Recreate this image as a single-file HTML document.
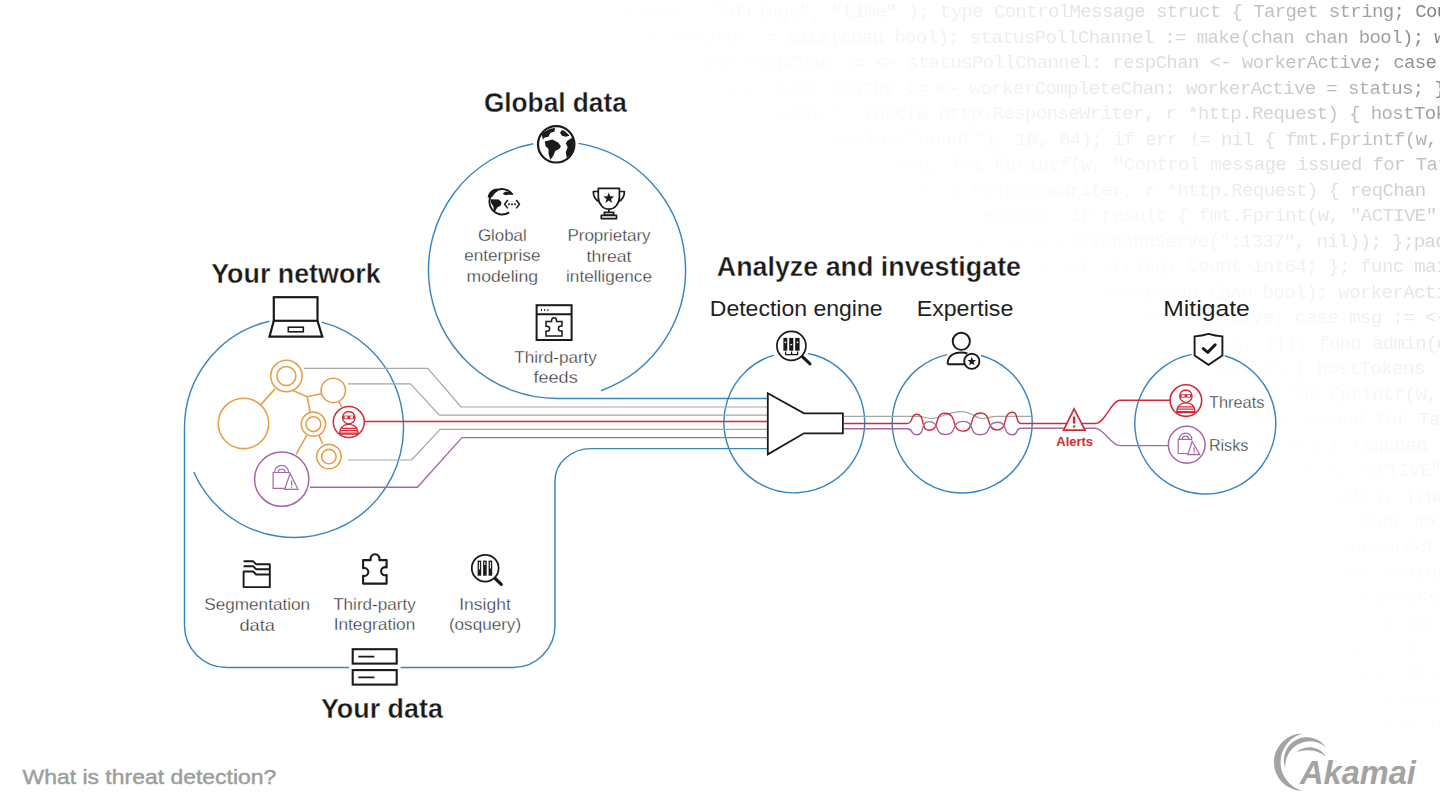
<!DOCTYPE html>
<html><head><meta charset="utf-8"><style>
html,body{margin:0;padding:0;background:#fff;}
body{width:1440px;height:810px;overflow:hidden;position:relative;font-family:"Liberation Sans",sans-serif;}
#code{position:absolute;left:0;top:0;width:1440px;height:810px;overflow:hidden;}

.cl{position:absolute;white-space:pre;font-family:"Liberation Mono",monospace;font-size:19px;letter-spacing:-0.6px;line-height:20px;color:#6e6e6e;}
svg{position:absolute;left:0;top:0;}
</style></head><body>
<div id="code">
<div class="cl" style="left:-32.3px;top:2.2px;opacity:0.874;-webkit-mask-image:linear-gradient(to right, rgba(0,0,0,0.000) 547px, rgba(0,0,0,0.013) 671px, rgba(0,0,0,0.031) 771px, rgba(0,0,0,0.060) 871px, rgba(0,0,0,0.105) 971px, rgba(0,0,0,0.174) 1071px, rgba(0,0,0,0.277) 1171px, rgba(0,0,0,0.346) 1221px, rgba(0,0,0,0.431) 1271px, rgba(0,0,0,0.534) 1321px, rgba(0,0,0,0.659) 1371px, rgba(0,0,0,0.812) 1421px, rgba(0,0,0,1.000) 1471px);mask-image:linear-gradient(to right, rgba(0,0,0,0.000) 547px, rgba(0,0,0,0.013) 671px, rgba(0,0,0,0.031) 771px, rgba(0,0,0,0.060) 871px, rgba(0,0,0,0.105) 971px, rgba(0,0,0,0.174) 1071px, rgba(0,0,0,0.277) 1171px, rgba(0,0,0,0.346) 1221px, rgba(0,0,0,0.431) 1271px, rgba(0,0,0,0.534) 1321px, rgba(0,0,0,0.659) 1371px, rgba(0,0,0,0.812) 1421px, rgba(0,0,0,1.000) 1471px)">;package main; import ( &quot;fmt&quot;; &quot;html&quot;; &quot;log&quot;; &quot;net/http&quot;; &quot;strconv&quot;; &quot;strings&quot;; &quot;time&quot; ); type ControlMessage struct { Target string; Count int64; }; </div>
<div class="cl" style="left:-2.3px;top:27.7px;opacity:0.861;-webkit-mask-image:linear-gradient(to right, rgba(0,0,0,0.000) 553px, rgba(0,0,0,0.008) 641px, rgba(0,0,0,0.024) 741px, rgba(0,0,0,0.051) 841px, rgba(0,0,0,0.094) 941px, rgba(0,0,0,0.160) 1041px, rgba(0,0,0,0.261) 1141px, rgba(0,0,0,0.330) 1191px, rgba(0,0,0,0.415) 1241px, rgba(0,0,0,0.519) 1291px, rgba(0,0,0,0.647) 1341px, rgba(0,0,0,0.805) 1391px, rgba(0,0,0,1.000) 1441px);mask-image:linear-gradient(to right, rgba(0,0,0,0.000) 553px, rgba(0,0,0,0.008) 641px, rgba(0,0,0,0.024) 741px, rgba(0,0,0,0.051) 841px, rgba(0,0,0,0.094) 941px, rgba(0,0,0,0.160) 1041px, rgba(0,0,0,0.261) 1141px, rgba(0,0,0,0.330) 1191px, rgba(0,0,0,0.415) 1241px, rgba(0,0,0,0.519) 1291px, rgba(0,0,0,0.647) 1341px, rgba(0,0,0,0.805) 1391px, rgba(0,0,0,1.000) 1441px)">n() { controlChannel := make(chan ControlMessage); workerCompleteChan := make(chan bool); statusPollChannel := make(chan chan bool); workerActive := f</div>
<div class="cl" style="left:140.2px;top:53.2px;opacity:0.843;-webkit-mask-image:linear-gradient(to right, rgba(0,0,0,0.000) 446px, rgba(0,0,0,0.005) 498px, rgba(0,0,0,0.019) 598px, rgba(0,0,0,0.043) 698px, rgba(0,0,0,0.082) 798px, rgba(0,0,0,0.146) 898px, rgba(0,0,0,0.245) 998px, rgba(0,0,0,0.313) 1048px, rgba(0,0,0,0.398) 1098px, rgba(0,0,0,0.503) 1148px, rgba(0,0,0,0.634) 1198px, rgba(0,0,0,0.797) 1248px, rgba(0,0,0,1.000) 1298px);mask-image:linear-gradient(to right, rgba(0,0,0,0.000) 446px, rgba(0,0,0,0.005) 498px, rgba(0,0,0,0.019) 598px, rgba(0,0,0,0.043) 698px, rgba(0,0,0,0.082) 798px, rgba(0,0,0,0.146) 898px, rgba(0,0,0,0.245) 998px, rgba(0,0,0,0.313) 1048px, rgba(0,0,0,0.398) 1098px, rgba(0,0,0,0.503) 1148px, rgba(0,0,0,0.634) 1198px, rgba(0,0,0,0.797) 1248px, rgba(0,0,0,1.000) 1298px)">controlChannel, statusPollChannel); for { select { case respChan := &lt;- statusPollChannel: respChan &lt;- workerActive; case msg := &lt;-controlChannel: work</div>
<div class="cl" style="left:-2.3px;top:78.7px;opacity:0.771;-webkit-mask-image:linear-gradient(to right, rgba(0,0,0,0.000) 624px, rgba(0,0,0,0.001) 641px, rgba(0,0,0,0.013) 741px, rgba(0,0,0,0.035) 841px, rgba(0,0,0,0.071) 941px, rgba(0,0,0,0.131) 1041px, rgba(0,0,0,0.227) 1141px, rgba(0,0,0,0.295) 1191px, rgba(0,0,0,0.380) 1241px, rgba(0,0,0,0.486) 1291px, rgba(0,0,0,0.620) 1341px, rgba(0,0,0,0.788) 1391px, rgba(0,0,0,1.000) 1441px);mask-image:linear-gradient(to right, rgba(0,0,0,0.000) 624px, rgba(0,0,0,0.001) 641px, rgba(0,0,0,0.013) 741px, rgba(0,0,0,0.035) 841px, rgba(0,0,0,0.071) 941px, rgba(0,0,0,0.131) 1041px, rgba(0,0,0,0.227) 1141px, rgba(0,0,0,0.295) 1191px, rgba(0,0,0,0.380) 1241px, rgba(0,0,0,0.486) 1291px, rgba(0,0,0,0.620) 1341px, rgba(0,0,0,0.788) 1391px, rgba(0,0,0,1.000) 1441px)">ntrolChannel: workerActive = true; go doStuff(msg, workerCompleteChan); case status := &lt;- workerCompleteChan: workerActive = status; }}}; func admin(c</div>
<div class="cl" style="left:398.6px;top:104.2px;opacity:0.698;-webkit-mask-image:linear-gradient(to right, rgba(0,0,0,0.000) 259px, rgba(0,0,0,0.008) 340px, rgba(0,0,0,0.027) 440px, rgba(0,0,0,0.060) 540px, rgba(0,0,0,0.117) 640px, rgba(0,0,0,0.210) 740px, rgba(0,0,0,0.276) 790px, rgba(0,0,0,0.361) 840px, rgba(0,0,0,0.468) 890px, rgba(0,0,0,0.605) 940px, rgba(0,0,0,0.778) 990px, rgba(0,0,0,1.000) 1040px);mask-image:linear-gradient(to right, rgba(0,0,0,0.000) 259px, rgba(0,0,0,0.008) 340px, rgba(0,0,0,0.027) 440px, rgba(0,0,0,0.060) 540px, rgba(0,0,0,0.117) 640px, rgba(0,0,0,0.210) 740px, rgba(0,0,0,0.276) 790px, rgba(0,0,0,0.361) 840px, rgba(0,0,0,0.468) 890px, rgba(0,0,0,0.605) 940px, rgba(0,0,0,0.778) 990px, rgba(0,0,0,1.000) 1040px)">han chan bool) { http.HandleFunc(&quot;/admin&quot;, func(w http.ResponseWriter, r *http.Request) { hostTokens := strings.Split(r.Host, &quot;:&quot;); r.ParseForm(); cou</div>
<div class="cl" style="left:313.7px;top:129.7px;opacity:0.583;-webkit-mask-image:linear-gradient(to right, rgba(0,0,0,0.000) 379px, rgba(0,0,0,0.004) 425px, rgba(0,0,0,0.020) 525px, rgba(0,0,0,0.050) 625px, rgba(0,0,0,0.102) 725px, rgba(0,0,0,0.192) 825px, rgba(0,0,0,0.257) 875px, rgba(0,0,0,0.341) 925px, rgba(0,0,0,0.449) 975px, rgba(0,0,0,0.588) 1025px, rgba(0,0,0,0.768) 1075px, rgba(0,0,0,1.000) 1125px);mask-image:linear-gradient(to right, rgba(0,0,0,0.000) 379px, rgba(0,0,0,0.004) 425px, rgba(0,0,0,0.020) 525px, rgba(0,0,0,0.050) 625px, rgba(0,0,0,0.102) 725px, rgba(0,0,0,0.192) 825px, rgba(0,0,0,0.257) 875px, rgba(0,0,0,0.341) 925px, rgba(0,0,0,0.449) 975px, rgba(0,0,0,0.588) 1025px, rgba(0,0,0,0.768) 1075px, rgba(0,0,0,1.000) 1125px)">arseForm(); count, err := strconv.ParseInt(r.FormValue(&quot;count&quot;), 10, 64); if err != nil { fmt.Fprintf(w, err.Error()); return; }; msg := ControlMessag</div>
<div class="cl" style="left:141.1px;top:155.2px;opacity:0.469;-webkit-mask-image:linear-gradient(to right, rgba(0,0,0,0.000) 588px, rgba(0,0,0,0.001) 597px, rgba(0,0,0,0.014) 697px, rgba(0,0,0,0.040) 797px, rgba(0,0,0,0.088) 897px, rgba(0,0,0,0.173) 997px, rgba(0,0,0,0.237) 1047px, rgba(0,0,0,0.320) 1097px, rgba(0,0,0,0.429) 1147px, rgba(0,0,0,0.571) 1197px, rgba(0,0,0,0.756) 1247px, rgba(0,0,0,1.000) 1297px);mask-image:linear-gradient(to right, rgba(0,0,0,0.000) 588px, rgba(0,0,0,0.001) 597px, rgba(0,0,0,0.014) 697px, rgba(0,0,0,0.040) 797px, rgba(0,0,0,0.088) 897px, rgba(0,0,0,0.173) 997px, rgba(0,0,0,0.237) 1047px, rgba(0,0,0,0.320) 1097px, rgba(0,0,0,0.429) 1147px, rgba(0,0,0,0.571) 1197px, rgba(0,0,0,0.756) 1247px, rgba(0,0,0,1.000) 1297px)">:= ControlMessage{Target: r.FormValue(&quot;target&quot;), Count: count}; cc &lt;- msg; fmt.Fprintf(w, &quot;Control message issued for Target %s, count %d&quot;, html.Escap</div>
<div class="cl" style="left:377.9px;top:180.7px;opacity:0.414;-webkit-mask-image:linear-gradient(to right, rgba(0,0,0,0.000) 387px, rgba(0,0,0,0.008) 461px, rgba(0,0,0,0.031) 561px, rgba(0,0,0,0.074) 661px, rgba(0,0,0,0.155) 761px, rgba(0,0,0,0.216) 811px, rgba(0,0,0,0.298) 861px, rgba(0,0,0,0.407) 911px, rgba(0,0,0,0.552) 961px, rgba(0,0,0,0.744) 1011px, rgba(0,0,0,1.000) 1061px);mask-image:linear-gradient(to right, rgba(0,0,0,0.000) 387px, rgba(0,0,0,0.008) 461px, rgba(0,0,0,0.031) 561px, rgba(0,0,0,0.074) 661px, rgba(0,0,0,0.155) 761px, rgba(0,0,0,0.216) 811px, rgba(0,0,0,0.298) 861px, rgba(0,0,0,0.407) 911px, rgba(0,0,0,0.552) 961px, rgba(0,0,0,0.744) 1011px, rgba(0,0,0,1.000) 1061px)">&quot;)), count); }); http.HandleFunc(&quot;/status&quot;,func(w http.ResponseWriter, r *http.Request) { reqChan := make(chan bool); statusPollChannel &lt;- reqChan;tim</div>
<div class="cl" style="left:377.9px;top:206.2px;opacity:0.359;-webkit-mask-image:linear-gradient(to right, rgba(0,0,0,0.000) 422px, rgba(0,0,0,0.004) 461px, rgba(0,0,0,0.022) 561px, rgba(0,0,0,0.061) 661px, rgba(0,0,0,0.135) 761px, rgba(0,0,0,0.195) 811px, rgba(0,0,0,0.275) 861px, rgba(0,0,0,0.384) 911px, rgba(0,0,0,0.531) 961px, rgba(0,0,0,0.730) 1011px, rgba(0,0,0,1.000) 1061px);mask-image:linear-gradient(to right, rgba(0,0,0,0.000) 422px, rgba(0,0,0,0.004) 461px, rgba(0,0,0,0.022) 561px, rgba(0,0,0,0.061) 661px, rgba(0,0,0,0.135) 761px, rgba(0,0,0,0.195) 811px, rgba(0,0,0,0.275) 861px, rgba(0,0,0,0.384) 911px, rgba(0,0,0,0.531) 961px, rgba(0,0,0,0.730) 1011px, rgba(0,0,0,1.000) 1061px)">:= time.After(time.Second); select { case result := &lt;- reqChan: if result { fmt.Fprint(w, &quot;ACTIVE&quot;) } else { fmt.Fprint(w, &quot;INACTIVE&quot;) }; return; case</div>
<div class="cl" style="left:344.3px;top:231.7px;opacity:0.309;-webkit-mask-image:linear-gradient(to right, rgba(0,0,0,0.000) 492px, rgba(0,0,0,0.000) 494px, rgba(0,0,0,0.015) 594px, rgba(0,0,0,0.048) 694px, rgba(0,0,0,0.116) 794px, rgba(0,0,0,0.173) 844px, rgba(0,0,0,0.251) 894px, rgba(0,0,0,0.359) 944px, rgba(0,0,0,0.508) 994px, rgba(0,0,0,0.714) 1044px, rgba(0,0,0,1.000) 1094px);mask-image:linear-gradient(to right, rgba(0,0,0,0.000) 492px, rgba(0,0,0,0.000) 494px, rgba(0,0,0,0.015) 594px, rgba(0,0,0,0.048) 694px, rgba(0,0,0,0.116) 794px, rgba(0,0,0,0.173) 844px, rgba(0,0,0,0.251) 894px, rgba(0,0,0,0.359) 944px, rgba(0,0,0,0.508) 994px, rgba(0,0,0,0.714) 1044px, rgba(0,0,0,1.000) 1094px)">rn; case &lt;- timeout: fmt.Fprint(w, &quot;TIMEOUT&quot;) }}); log.Fatal(http.ListenAndServe(&quot;:1337&quot;, nil)); };package main; import ( &quot;fmt&quot;; &quot;html&quot;; &quot;log&quot;; &quot;net/h</div>
<div class="cl" style="left:215.3px;top:257.2px;opacity:0.259;-webkit-mask-image:linear-gradient(to right, rgba(0,0,0,0.000) 656px, rgba(0,0,0,0.008) 723px, rgba(0,0,0,0.036) 823px, rgba(0,0,0,0.097) 923px, rgba(0,0,0,0.150) 973px, rgba(0,0,0,0.225) 1023px, rgba(0,0,0,0.332) 1073px, rgba(0,0,0,0.483) 1123px, rgba(0,0,0,0.696) 1173px, rgba(0,0,0,1.000) 1223px);mask-image:linear-gradient(to right, rgba(0,0,0,0.000) 656px, rgba(0,0,0,0.008) 723px, rgba(0,0,0,0.036) 823px, rgba(0,0,0,0.097) 923px, rgba(0,0,0,0.150) 973px, rgba(0,0,0,0.225) 1023px, rgba(0,0,0,0.332) 1073px, rgba(0,0,0,0.483) 1123px, rgba(0,0,0,0.696) 1173px, rgba(0,0,0,1.000) 1223px)">; &quot;net/http&quot;; &quot;strconv&quot;; &quot;strings&quot;; &quot;time&quot; ); type ControlMessage struct { Target string; Count int64; }; func main() { controlChannel := make(chan Co</div>
<div class="cl" style="left:366.2px;top:282.7px;opacity:0.219;-webkit-mask-image:linear-gradient(to right, rgba(0,0,0,0.000) 541px, rgba(0,0,0,0.003) 572px, rgba(0,0,0,0.025) 672px, rgba(0,0,0,0.079) 772px, rgba(0,0,0,0.127) 822px, rgba(0,0,0,0.199) 872px, rgba(0,0,0,0.303) 922px, rgba(0,0,0,0.455) 972px, rgba(0,0,0,0.676) 1022px, rgba(0,0,0,1.000) 1072px);mask-image:linear-gradient(to right, rgba(0,0,0,0.000) 541px, rgba(0,0,0,0.003) 572px, rgba(0,0,0,0.025) 672px, rgba(0,0,0,0.079) 772px, rgba(0,0,0,0.127) 822px, rgba(0,0,0,0.199) 872px, rgba(0,0,0,0.303) 922px, rgba(0,0,0,0.455) 972px, rgba(0,0,0,0.676) 1022px, rgba(0,0,0,1.000) 1072px)">ssage); workerCompleteChan := make(chan bool); statusPollChannel := make(chan chan bool); workerActive := false; go admin(controlChannel, statusPollCh</div>
<div class="cl" style="left:322.9px;top:308.2px;opacity:0.179;-webkit-mask-image:linear-gradient(to right, rgba(0,0,0,0.000) 620px, rgba(0,0,0,0.016) 716px, rgba(0,0,0,0.061) 816px, rgba(0,0,0,0.105) 866px, rgba(0,0,0,0.172) 916px, rgba(0,0,0,0.273) 966px, rgba(0,0,0,0.425) 1016px, rgba(0,0,0,0.654) 1066px, rgba(0,0,0,1.000) 1116px);mask-image:linear-gradient(to right, rgba(0,0,0,0.000) 620px, rgba(0,0,0,0.016) 716px, rgba(0,0,0,0.061) 816px, rgba(0,0,0,0.105) 866px, rgba(0,0,0,0.172) 916px, rgba(0,0,0,0.273) 966px, rgba(0,0,0,0.425) 1016px, rgba(0,0,0,0.654) 1066px, rgba(0,0,0,1.000) 1116px)">Channel); for { select { case respChan := &lt;- statusPollChannel: respChan &lt;- workerActive; case msg := &lt;-controlChannel: workerActive = true; go doStuf</div>
<div class="cl" style="left:345.8px;top:333.7px;opacity:0.149;-webkit-mask-image:linear-gradient(to right, rgba(0,0,0,0.000) 633px, rgba(0,0,0,0.008) 693px, rgba(0,0,0,0.045) 793px, rgba(0,0,0,0.083) 843px, rgba(0,0,0,0.144) 893px, rgba(0,0,0,0.240) 943px, rgba(0,0,0,0.391) 993px, rgba(0,0,0,0.628) 1043px, rgba(0,0,0,1.000) 1093px);mask-image:linear-gradient(to right, rgba(0,0,0,0.000) 633px, rgba(0,0,0,0.008) 693px, rgba(0,0,0,0.045) 793px, rgba(0,0,0,0.083) 843px, rgba(0,0,0,0.144) 893px, rgba(0,0,0,0.240) 943px, rgba(0,0,0,0.391) 993px, rgba(0,0,0,0.628) 1043px, rgba(0,0,0,1.000) 1093px)">g, workerCompleteChan); case status := &lt;- workerCompleteChan: workerActive = status; }}}; func admin(cc chan ControlMessage, statusPollChannel chan ch</div>
<div class="cl" style="left:344.3px;top:359.2px;opacity:0.120;-webkit-mask-image:linear-gradient(to right, rgba(0,0,0,0.000) 670px, rgba(0,0,0,0.003) 694px, rgba(0,0,0,0.030) 794px, rgba(0,0,0,0.061) 844px, rgba(0,0,0,0.115) 894px, rgba(0,0,0,0.206) 944px, rgba(0,0,0,0.354) 994px, rgba(0,0,0,0.598) 1044px, rgba(0,0,0,1.000) 1094px);mask-image:linear-gradient(to right, rgba(0,0,0,0.000) 670px, rgba(0,0,0,0.003) 694px, rgba(0,0,0,0.030) 794px, rgba(0,0,0,0.061) 844px, rgba(0,0,0,0.115) 894px, rgba(0,0,0,0.206) 944px, rgba(0,0,0,0.354) 994px, rgba(0,0,0,0.598) 1044px, rgba(0,0,0,1.000) 1094px)">han chan bool) { http.HandleFunc(&quot;/admin&quot;, func(w http.ResponseWriter, r *http.Request) { hostTokens := strings.Split(r.Host, &quot;:&quot;); r.ParseForm(); cou</div>
<div class="cl" style="left:313.7px;top:384.7px;opacity:0.100;-webkit-mask-image:linear-gradient(to right, rgba(0,0,0,0.000) 736px, rgba(0,0,0,0.017) 825px, rgba(0,0,0,0.042) 875px, rgba(0,0,0,0.088) 925px, rgba(0,0,0,0.169) 975px, rgba(0,0,0,0.313) 1025px, rgba(0,0,0,0.563) 1075px, rgba(0,0,0,1.000) 1125px);mask-image:linear-gradient(to right, rgba(0,0,0,0.000) 736px, rgba(0,0,0,0.017) 825px, rgba(0,0,0,0.042) 875px, rgba(0,0,0,0.088) 925px, rgba(0,0,0,0.169) 975px, rgba(0,0,0,0.313) 1025px, rgba(0,0,0,0.563) 1075px, rgba(0,0,0,1.000) 1125px)">arseForm(); count, err := strconv.ParseInt(r.FormValue(&quot;count&quot;), 10, 64); if err != nil { fmt.Fprintf(w, err.Error()); return; }; msg := ControlMessag</div>
<div class="cl" style="left:327.2px;top:410.2px;opacity:0.080;-webkit-mask-image:linear-gradient(to right, rgba(0,0,0,0.000) 759px, rgba(0,0,0,0.009) 811px, rgba(0,0,0,0.028) 861px, rgba(0,0,0,0.067) 911px, rgba(0,0,0,0.142) 961px, rgba(0,0,0,0.280) 1011px, rgba(0,0,0,0.534) 1061px, rgba(0,0,0,1.000) 1111px);mask-image:linear-gradient(to right, rgba(0,0,0,0.000) 759px, rgba(0,0,0,0.009) 811px, rgba(0,0,0,0.028) 861px, rgba(0,0,0,0.067) 911px, rgba(0,0,0,0.142) 961px, rgba(0,0,0,0.280) 1011px, rgba(0,0,0,0.534) 1061px, rgba(0,0,0,1.000) 1111px)">{Target: r.FormValue(&quot;target&quot;), Count: count}; cc &lt;- msg; fmt.Fprintf(w, &quot;Control message issued for Target %s, count %d&quot;, html.EscapeString(r.FormVal</div>
<div class="cl" style="left:379.2px;top:435.7px;opacity:0.070;-webkit-mask-image:linear-gradient(to right, rgba(0,0,0,0.000) 719px, rgba(0,0,0,0.007) 759px, rgba(0,0,0,0.026) 809px, rgba(0,0,0,0.065) 859px, rgba(0,0,0,0.140) 909px, rgba(0,0,0,0.279) 959px, rgba(0,0,0,0.534) 1009px, rgba(0,0,0,1.000) 1059px);mask-image:linear-gradient(to right, rgba(0,0,0,0.000) 719px, rgba(0,0,0,0.007) 759px, rgba(0,0,0,0.026) 809px, rgba(0,0,0,0.065) 859px, rgba(0,0,0,0.140) 909px, rgba(0,0,0,0.279) 959px, rgba(0,0,0,0.534) 1009px, rgba(0,0,0,1.000) 1059px)">&quot;)), count); }); http.HandleFunc(&quot;/status&quot;,func(w http.ResponseWriter, r *http.Request) { reqChan := make(chan bool); statusPollChannel &lt;- reqChan;tim</div>
<div class="cl" style="left:383.0px;top:461.2px;opacity:0.060;-webkit-mask-image:linear-gradient(to right, rgba(0,0,0,0.000) 716px, rgba(0,0,0,0.007) 756px, rgba(0,0,0,0.026) 806px, rgba(0,0,0,0.065) 856px, rgba(0,0,0,0.140) 906px, rgba(0,0,0,0.279) 956px, rgba(0,0,0,0.534) 1006px, rgba(0,0,0,1.000) 1056px);mask-image:linear-gradient(to right, rgba(0,0,0,0.000) 716px, rgba(0,0,0,0.007) 756px, rgba(0,0,0,0.026) 806px, rgba(0,0,0,0.065) 856px, rgba(0,0,0,0.140) 906px, rgba(0,0,0,0.279) 956px, rgba(0,0,0,0.534) 1006px, rgba(0,0,0,1.000) 1056px)">:= time.After(time.Second); select { case result := &lt;- reqChan: if result { fmt.Fprint(w, &quot;ACTIVE&quot;) } else { fmt.Fprint(w, &quot;INACTIVE&quot;) }; return; case</div>
<div class="cl" style="left:356.5px;top:486.7px;opacity:0.050;-webkit-mask-image:linear-gradient(to right, rgba(0,0,0,0.000) 742px, rgba(0,0,0,0.007) 782px, rgba(0,0,0,0.026) 832px, rgba(0,0,0,0.065) 882px, rgba(0,0,0,0.140) 932px, rgba(0,0,0,0.279) 982px, rgba(0,0,0,0.534) 1032px, rgba(0,0,0,1.000) 1082px);mask-image:linear-gradient(to right, rgba(0,0,0,0.000) 742px, rgba(0,0,0,0.007) 782px, rgba(0,0,0,0.026) 832px, rgba(0,0,0,0.065) 882px, rgba(0,0,0,0.140) 932px, rgba(0,0,0,0.279) 982px, rgba(0,0,0,0.534) 1032px, rgba(0,0,0,1.000) 1082px)">rn; case &lt;- timeout: fmt.Fprint(w, &quot;TIMEOUT&quot;) }}); log.Fatal(http.ListenAndServe(&quot;:1337&quot;, nil)); };package main; import ( &quot;fmt&quot;; &quot;html&quot;; &quot;log&quot;; &quot;net/h</div>
<div class="cl" style="left:388.6px;top:512.2px;opacity:0.040;-webkit-mask-image:linear-gradient(to right, rgba(0,0,0,0.000) 710px, rgba(0,0,0,0.007) 750px, rgba(0,0,0,0.026) 800px, rgba(0,0,0,0.065) 850px, rgba(0,0,0,0.140) 900px, rgba(0,0,0,0.279) 950px, rgba(0,0,0,0.534) 1000px, rgba(0,0,0,1.000) 1050px);mask-image:linear-gradient(to right, rgba(0,0,0,0.000) 710px, rgba(0,0,0,0.007) 750px, rgba(0,0,0,0.026) 800px, rgba(0,0,0,0.065) 850px, rgba(0,0,0,0.140) 900px, rgba(0,0,0,0.279) 950px, rgba(0,0,0,0.534) 1000px, rgba(0,0,0,1.000) 1050px)">trconv&quot;; &quot;strings&quot;; &quot;time&quot; ); type ControlMessage struct { Target string; Count int64; }; func main() { controlChannel := make(chan ControlMessage); w</div>
<div class="cl" style="left:367.3px;top:537.7px;opacity:0.035;-webkit-mask-image:linear-gradient(to right, rgba(0,0,0,0.000) 731px, rgba(0,0,0,0.007) 771px, rgba(0,0,0,0.026) 821px, rgba(0,0,0,0.065) 871px, rgba(0,0,0,0.140) 921px, rgba(0,0,0,0.279) 971px, rgba(0,0,0,0.534) 1021px, rgba(0,0,0,1.000) 1071px);mask-image:linear-gradient(to right, rgba(0,0,0,0.000) 731px, rgba(0,0,0,0.007) 771px, rgba(0,0,0,0.026) 821px, rgba(0,0,0,0.065) 871px, rgba(0,0,0,0.140) 921px, rgba(0,0,0,0.279) 971px, rgba(0,0,0,0.534) 1021px, rgba(0,0,0,1.000) 1071px)">ssage); workerCompleteChan := make(chan bool); statusPollChannel := make(chan chan bool); workerActive := false; go admin(controlChannel, statusPollCh</div>
<div class="cl" style="left:356.5px;top:563.2px;opacity:0.029;-webkit-mask-image:linear-gradient(to right, rgba(0,0,0,0.000) 742px, rgba(0,0,0,0.007) 782px, rgba(0,0,0,0.026) 832px, rgba(0,0,0,0.065) 882px, rgba(0,0,0,0.140) 932px, rgba(0,0,0,0.279) 982px, rgba(0,0,0,0.534) 1032px, rgba(0,0,0,1.000) 1082px);mask-image:linear-gradient(to right, rgba(0,0,0,0.000) 742px, rgba(0,0,0,0.007) 782px, rgba(0,0,0,0.026) 832px, rgba(0,0,0,0.065) 882px, rgba(0,0,0,0.140) 932px, rgba(0,0,0,0.279) 982px, rgba(0,0,0,0.534) 1032px, rgba(0,0,0,1.000) 1082px)">; case msg := &lt;-controlChannel: workerActive = true; go doStuff(msg, workerCompleteChan); case status := &lt;- workerCompleteChan: workerActive = status;</div>
<div class="cl" style="left:326.5px;top:588.7px;opacity:0.024;-webkit-mask-image:linear-gradient(to right, rgba(0,0,0,0.000) 772px, rgba(0,0,0,0.007) 812px, rgba(0,0,0,0.026) 862px, rgba(0,0,0,0.065) 912px, rgba(0,0,0,0.140) 962px, rgba(0,0,0,0.279) 1012px, rgba(0,0,0,0.534) 1062px, rgba(0,0,0,1.000) 1112px);mask-image:linear-gradient(to right, rgba(0,0,0,0.000) 772px, rgba(0,0,0,0.007) 812px, rgba(0,0,0,0.026) 862px, rgba(0,0,0,0.065) 912px, rgba(0,0,0,0.140) 962px, rgba(0,0,0,0.279) 1012px, rgba(0,0,0,0.534) 1062px, rgba(0,0,0,1.000) 1112px)">ive = status; }}}; func admin(cc chan ControlMessage, statusPollChannel chan chan bool) { http.HandleFunc(&quot;/admin&quot;, func(w http.ResponseWriter, r *htt</div>
<div class="cl" style="left:356.5px;top:614.2px;opacity:0.020;-webkit-mask-image:linear-gradient(to right, rgba(0,0,0,0.000) 742px, rgba(0,0,0,0.007) 782px, rgba(0,0,0,0.026) 832px, rgba(0,0,0,0.065) 882px, rgba(0,0,0,0.140) 932px, rgba(0,0,0,0.279) 982px, rgba(0,0,0,0.534) 1032px, rgba(0,0,0,1.000) 1082px);mask-image:linear-gradient(to right, rgba(0,0,0,0.000) 742px, rgba(0,0,0,0.007) 782px, rgba(0,0,0,0.026) 832px, rgba(0,0,0,0.065) 882px, rgba(0,0,0,0.140) 932px, rgba(0,0,0,0.279) 982px, rgba(0,0,0,0.534) 1032px, rgba(0,0,0,1.000) 1082px)">return; }; msg := ControlMessage{Target: r.FormValue(&quot;target&quot;), Count: count}; cc &lt;- msg; fmt.Fprintf(w, &quot;Control message issued for Target %s, count </div>
<div class="cl" style="left:346.5px;top:639.7px;opacity:0.018;-webkit-mask-image:linear-gradient(to right, rgba(0,0,0,0.000) 752px, rgba(0,0,0,0.007) 792px, rgba(0,0,0,0.026) 842px, rgba(0,0,0,0.065) 892px, rgba(0,0,0,0.140) 942px, rgba(0,0,0,0.279) 992px, rgba(0,0,0,0.534) 1042px, rgba(0,0,0,1.000) 1092px);mask-image:linear-gradient(to right, rgba(0,0,0,0.000) 752px, rgba(0,0,0,0.007) 792px, rgba(0,0,0,0.026) 842px, rgba(0,0,0,0.065) 892px, rgba(0,0,0,0.140) 942px, rgba(0,0,0,0.279) 992px, rgba(0,0,0,0.534) 1042px, rgba(0,0,0,1.000) 1092px)">han bool); statusPollChannel &lt;- reqChan;timeout := time.After(time.Second); select { case result := &lt;- reqChan: if result { fmt.Fprint(w, &quot;ACTIVE&quot;) } </div>
<div class="cl" style="left:326.5px;top:665.2px;opacity:0.015;-webkit-mask-image:linear-gradient(to right, rgba(0,0,0,0.000) 772px, rgba(0,0,0,0.007) 812px, rgba(0,0,0,0.026) 862px, rgba(0,0,0,0.065) 912px, rgba(0,0,0,0.140) 962px, rgba(0,0,0,0.279) 1012px, rgba(0,0,0,0.534) 1062px, rgba(0,0,0,1.000) 1112px);mask-image:linear-gradient(to right, rgba(0,0,0,0.000) 772px, rgba(0,0,0,0.007) 812px, rgba(0,0,0,0.026) 862px, rgba(0,0,0,0.065) 912px, rgba(0,0,0,0.140) 962px, rgba(0,0,0,0.279) 1012px, rgba(0,0,0,0.534) 1062px, rgba(0,0,0,1.000) 1112px)">lse { fmt.Fprint(w, &quot;INACTIVE&quot;) }; return; case &lt;- timeout: fmt.Fprint(w, &quot;TIMEOUT&quot;) }}); log.Fatal(http.ListenAndServe(&quot;:1337&quot;, nil)); };package main</div>
<div class="cl" style="left:356.5px;top:690.7px;opacity:0.013;-webkit-mask-image:linear-gradient(to right, rgba(0,0,0,0.000) 742px, rgba(0,0,0,0.007) 782px, rgba(0,0,0,0.026) 832px, rgba(0,0,0,0.065) 882px, rgba(0,0,0,0.140) 932px, rgba(0,0,0,0.279) 982px, rgba(0,0,0,0.534) 1032px, rgba(0,0,0,1.000) 1082px);mask-image:linear-gradient(to right, rgba(0,0,0,0.000) 742px, rgba(0,0,0,0.007) 782px, rgba(0,0,0,0.026) 832px, rgba(0,0,0,0.065) 882px, rgba(0,0,0,0.140) 932px, rgba(0,0,0,0.279) 982px, rgba(0,0,0,0.534) 1032px, rgba(0,0,0,1.000) 1082px)">;package main; import ( &quot;fmt&quot;; &quot;html&quot;; &quot;log&quot;; &quot;net/http&quot;; &quot;strconv&quot;; &quot;strings&quot;; &quot;time&quot; ); type ControlMessage struct { Target string; Count int64; }; </div>
<div class="cl" style="left:356.5px;top:716.2px;opacity:0.011;-webkit-mask-image:linear-gradient(to right, rgba(0,0,0,0.000) 742px, rgba(0,0,0,0.007) 782px, rgba(0,0,0,0.026) 832px, rgba(0,0,0,0.065) 882px, rgba(0,0,0,0.140) 932px, rgba(0,0,0,0.279) 982px, rgba(0,0,0,0.534) 1032px, rgba(0,0,0,1.000) 1082px);mask-image:linear-gradient(to right, rgba(0,0,0,0.000) 742px, rgba(0,0,0,0.007) 782px, rgba(0,0,0,0.026) 832px, rgba(0,0,0,0.065) 882px, rgba(0,0,0,0.140) 932px, rgba(0,0,0,0.279) 982px, rgba(0,0,0,0.534) 1032px, rgba(0,0,0,1.000) 1082px)">Func(&quot;/status&quot;,func(w http.ResponseWriter, r *http.Request) { reqChan := make(chan bool); statusPollChannel &lt;- reqChan;timeout := time.After(time.Seco</div>
</div>
<svg width="1440" height="810" viewBox="0 0 1440 810">
<g fill="none" stroke="#3886c0" stroke-width="1.45">
<path d="M557.0 398.4 A128.4 128.4 0 0 1 533.2 143.8 M578.6 143.4 A128.4 128.4 0 0 1 600.9 390.7"/>
<path d="M557 398.4 H768"/>
<path d="M184.5 428.0 A109.5 109.5 0 0 1 269.4 321.3 M321.8 322.1 A109.5 109.5 0 1 1 193.7 472.0"/>
<path d="M184.5 428 V625.5 A42 42 0 0 0 226.5 667.5 H349 M400.5 667.5 H513 A42 42 0 0 0 555 625.5 V480.6 A36 32 0 0 1 591 448.6 H768"/>
<path d="M808.3 353.5 A70.4 70.4 0 1 1 773.9 355.1"/>
<path d="M981.0 355.5 A70 70 0 1 1 947.0 354.6"/>
<path d="M1224.7 355.8 A70.5 70.5 0 1 1 1191.7 354.4"/>
</g>
<g fill="none" stroke-width="1.4" stroke-linejoin="round">
<path stroke="#a6a6a6" stroke-width="1.2" d="M304 368.4 H427.8 L461.1 407 H768"/>
<path stroke="#a6a6a6" stroke-width="1.2" d="M348 383.9 H410.6 L439.3 415.2 H768"/>
<path stroke="#a6a6a6" stroke-width="1.2" d="M348 460 H411.5 L440.2 429.4 H768"/>
<path stroke="#d02b38" d="M364.6 421.5 H768"/>
<path stroke="#a369a6" d="M310 487.2 H417.4 L461.9 437.6 H768"/>
<path stroke="#a6a6a6" stroke-width="1.2" d="M844 416.3 H918 C925 416.3 926 418.5 932 418.5 C940 418.5 948 411.7 961 411.7 C972 411.7 976 418.5 982 418.5 C988 418.5 990 416.3 996 416.3 H1031"/>
<path stroke="#d02b38" d="M844 423.5 H907 C914.0 423.5 909.7 414.2 916.7 414.2 C925.5 414.2 920.1 430.3 928.9 430.3 C940.6 430.3 933.4 413.3 945.1 413.3 C958.1 413.3 950.2 431.1 963.2 431.1 C975.5 431.1 968.0 413.0 980.3 413.0 C992.7 413.0 985.1 429.9 997.5 429.9 C1008.5 429.9 1001.8 412.2 1012.8 412.2 C1018.7 412.2 1015.1 423.5 1021 423.5 H1096 C1104.6 423.5 1111.4 400.3 1120 400.3 H1170"/>
<path stroke="#a369a6" d="M844 428.8 H907 C914.0 428.8 909.7 434.8 916.7 434.8 C925.5 434.8 920.1 421.6 928.9 421.6 C940.6 421.6 933.4 434.5 945.1 434.5 C958.1 434.5 950.2 421.4 963.2 421.4 C975.5 421.4 968.0 434.8 980.3 434.8 C992.7 434.8 985.1 422.3 997.5 422.3 C1008.5 422.3 1001.8 434.8 1012.8 434.8 C1018.7 434.8 1015.1 428.3 1021 428.3 H1095 C1104.0 428.3 1111.0 445.6 1120 445.6 H1168"/>
</g>
<path d="M767.8 393.3 L804 413.3 H842.9 V433.3 H804 L767.8 454.4 Z" fill="#fff" stroke="#1a1a1a" stroke-width="1.8" stroke-linejoin="miter"/>
<g fill="none" stroke="#e69f4a" stroke-width="1.6">
<circle cx="243.5" cy="423.4" r="25.2"/>
<circle cx="286.4" cy="376" r="15.7"/><circle cx="286.4" cy="376" r="9.5"/>
<circle cx="333.3" cy="390.4" r="12.2"/>
<circle cx="313.4" cy="424.2" r="12.1"/><circle cx="313.4" cy="424.2" r="7.4"/>
<circle cx="328.9" cy="456.6" r="12.2"/><circle cx="328.9" cy="456.6" r="7.2"/>
<path d="M261.1 404.4 L275 388.9 M292.8 390.6 L307.2 396.7 L321.2 393.8 M307.2 396.7 L310.2 412.3 M338.9 401.7 L341.5 406.8 M306.7 435.3 L296.1 454.4 M318.9 435.4 L322.8 444"/>
</g>
<g fill="none" stroke="#d02b38" stroke-width="1.5">
<circle cx="348.8" cy="422.1" r="15.5"/>
</g>
<g transform="translate(348.8 422.1) scale(1.0)" fill="none" stroke="#d02b38" stroke-width="1.3"><circle cx="0" cy="-4.4" r="6.2"/><path d="M-6 -6.5 H6 V-3 H-6 Z" fill="#d02b38" stroke="none"/><rect x="-4.2" y="-5.8" width="2.8" height="2" fill="#fff" stroke="none"/><rect x="1.4" y="-5.8" width="2.8" height="2" fill="#fff" stroke="none"/><path d="M-9.2 12 C-9.2 5 -5 2.3 0 2.3 C5 2.3 9.2 5 9.2 12 Z"/><path d="M-7.6 6.2 H7.6 M-8.8 8.6 H8.8 M-9.2 11 H9.2" /></g>
<circle cx="281.7" cy="479.2" r="27.1" fill="none" stroke="#a369a6" stroke-width="1.5"/>
<g transform="translate(281.7 479.2)" fill="none" stroke="#a369a6" stroke-width="1.2"><path d="M-7.199999999999999 -6.7 A7.1 7.1 0 0 1 7.0 -6.7"/><path d="M-3.6 -6.7 A3.5 3.5 0 0 1 3.4 -6.7"/><path d="M3.4 9.1 H-8.6 V-6.7 H8.4"/><path d="M8.4 -5.7 L16.3 10.1 H2.9 Z" fill="#fff"/><path d="M9.9 1.4 V6.6 M9.9 7.9 V9.0"/></g>
<g fill="none" stroke="#1a1a1a" stroke-width="2.2" stroke-linejoin="miter"><rect x="273.8" y="297.2" width="43.7" height="23.6"/><path d="M273.8 320.8 L269.5 336.6 H322.3 L317.5 320.8"/><rect x="288.3" y="327.2" width="15" height="4.6" stroke-width="1.6"/></g>
<g fill="none" stroke="#1a1a1a" stroke-width="2.1"><rect x="352.7" y="649.2" width="44" height="14.4"/><rect x="352.7" y="670.1" width="44" height="14.5"/><path d="M358.3 656.7 H374.4 M358.3 677.3 H374.4" stroke-width="1.7"/></g>
<g transform="translate(556.2 144.3)"><circle r="18.2" fill="#fff" stroke="#1a1a1a" stroke-width="2.2"/><g transform="scale(0.958)" fill="#1a1a1a"><path d="M-15 -10 C-12 -14 -6 -17 -1 -17 L-2 -13 L-6 -12 L-8 -8 L-12 -7 L-14 -5 Z"/><path d="M-12 -3 L-4 -5 L2 -2 L5 2 L3 5 L-1 7 L-3 12 L-6 16 L-8 10 L-8 5 L-11 2 Z"/><path d="M6 -15 L9 -14 L14 -9 L10 -8 L6 -9 L4 -12 Z"/><path d="M12 -4 L17 -7 C19 -2 19 5 15 11 L11 14 L10 8 L12 3 L10 -1 Z"/></g></g>
<g fill="#1a1a1a" stroke="none"><path d="M512.7 194.7 A12.7 12.7 0 1 0 509.1 212.4" fill="none" stroke="#1a1a1a" stroke-width="1.9"/><path d="M487.6 197.5 C488 193.5 490.5 190.5 494 189 L497.4 188.6 L497.2 191.6 L494.6 193.4 L492.6 196.4 L489.5 197.8 Z"/><path d="M490.6 199.2 L498.8 199.4 L501.6 202.4 L500.6 205.8 L497.2 207.6 L495.2 211.2 L493.6 210.6 L493.4 206.4 L491.2 203.2 Z"/><path d="M502.6 193.6 L505.6 191.6 L509.6 192 L512.6 194.8 L508.6 194.8 L505.2 195.2 Z"/><path d="M507.8 200 L504.6 204.2 L507.8 208.4 M516.2 200 L519.4 204.2 L516.2 208.4" fill="none" stroke="#1a1a1a" stroke-width="1.5"/><circle cx="508.9" cy="204.2" r="1.05"/><circle cx="512" cy="204.2" r="1.05"/><circle cx="515.1" cy="204.2" r="1.05"/></g>
<g fill="none" stroke="#1a1a1a" stroke-width="1.7" stroke-linejoin="round"><path d="M598.3 188.4 H619.4 V197 C619.4 204 614.5 209.2 608.9 209.2 C603.2 209.2 598.3 204 598.3 197 Z"/><path d="M598.3 191.5 H593.3 C593.3 196.5 595.5 200 599.3 201.8 M619.4 191.5 H624.4 C624.4 196.5 622.2 200 618.4 201.8"/><path d="M608.9 209.2 V212.4"/><rect x="604.4" y="212.4" width="9.2" height="2.8"/><rect x="601.3" y="215.4" width="15.2" height="3.2"/><path d="M608.80 192.40 L610.21 196.26 L614.32 196.41 L611.08 198.94 L612.21 202.89 L608.80 200.60 L605.39 202.89 L606.52 198.94 L603.28 196.41 L607.39 196.26 Z" fill="#1a1a1a" stroke="none"/></g>
<g fill="none" stroke="#1a1a1a" stroke-width="2" stroke-linejoin="miter"><rect x="536.6" y="305.2" width="35" height="34.8"/><path d="M536.6 314.2 H571.6"/><path d="M541 310 h1 M544.2 310 h1 M547.4 310 h1" stroke-width="1.8"/><path stroke-width="1.5" d="M546 321.5 H551.6 V320.5 C551.6 316.8 556.5 316.8 556.5 320.5 V321.5 H562 V326 H561 C557.5 326 557.5 331 561 331 H562 V336 H546 V331.2 H547 C550.5 331.2 550.5 326.2 547 326.2 H546 Z"/></g>
<path fill="none" stroke="#1a1a1a" stroke-width="2.1" stroke-linejoin="round" d="M363.1 560.1 H370.7 A4.5 4.5 0 1 1 379.3 560.1 H386.6 V567.5 A4 4 0 1 0 386.6 574.9 V583.6 H363.1 V575.8 A4 4 0 1 0 363.1 568.2 Z"/>
<g fill="none" stroke="#1a1a1a" stroke-width="1.9" stroke-linejoin="round"><path d="M243.6 587.1 V571.5 H253.2 L256.2 574.5 H269.8 V587.1 Z"/><path d="M243.6 566.2 H253.2 L256.2 569.3 H269.8"/><path d="M243.6 561.3 H253.2 L256.2 564.3 H269.8 V574.5"/></g>
<g fill="none" stroke="#1a1a1a" stroke-width="1.8"><circle cx="485.2" cy="568.2" r="13.4"/><path d="M495.2 578.5 L501.3 584.3" stroke-width="3.2" stroke-linecap="round"/><g fill="#1a1a1a" stroke="none"><rect x="477.6" y="560.6" width="3.6" height="15.1"/><rect x="483.1" y="560.6" width="3.6" height="15.1"/><rect x="488.6" y="560.6" width="3.6" height="15.1"/></g><g fill="#fff" stroke="none"><rect x="478.9" y="562" width="1" height="7.5"/><rect x="484.4" y="562" width="1" height="3"/><rect x="489.9" y="562" width="1" height="6.5"/></g></g>
<g fill="none" stroke="#1a1a1a" stroke-width="1.7"><circle cx="791.4" cy="345.8" r="14.5"/><path d="M802.6 356.8 L810 363.9" stroke-width="3" stroke-linecap="round"/><g fill="#1a1a1a" stroke="none"><rect x="783.4" y="337.9" width="3.9" height="12.8"/><rect x="789.2" y="337.9" width="4.1" height="12.8"/><rect x="795.2" y="337.9" width="4.4" height="12.8"/></g><g fill="#fff" stroke="none"><rect x="784.6" y="341.6" width="1.5" height="1.5"/><rect x="790.5" y="344" width="1.6" height="1.2"/><rect x="796.7" y="341.6" width="1.5" height="1.5"/></g><path d="M785.6 351.4 V354.6 H797.6 V351.4 M791.6 351.4 V354.6" stroke-width="1.3"/></g>
<g fill="none" stroke="#1a1a1a" stroke-width="1.9"><circle cx="961.3" cy="341.3" r="8.6"/><path d="M947.6 364.3 C947.6 356 953.5 352.5 961.3 352.5 C963.5 352.5 965.5 352.8 967.3 353.5 M947.6 364.3 H964"/><circle cx="971.8" cy="361.3" r="7.6" fill="#fff"/><path d="M971.8 356.9 L973 359.9 L976.1 360.1 L973.7 362.1 L974.5 365.2 L971.8 363.5 L969.1 365.2 L969.9 362.1 L967.5 360.1 L970.6 359.9 Z" fill="#1a1a1a" stroke="none"/></g>
<g fill="none" stroke="#1a1a1a" stroke-width="1.9" stroke-linejoin="miter"><path d="M1194.6 336.4 Q1202 335.9 1208.5 333.9 Q1215 335.9 1222.4 336.4 V355.5 L1208.5 364.8 L1194.6 355.5 Z"/><path d="M1203.3 348.7 L1207.7 352.4 L1215.2 344.8" stroke-width="3" stroke-linecap="round" stroke-linejoin="round"/></g>
<circle cx="1185.9" cy="400.6" r="15.8" fill="#fff" stroke="#d02b38" stroke-width="1.6"/>
<g transform="translate(1185.9 400.6) scale(1.0)" fill="none" stroke="#d02b38" stroke-width="1.3"><circle cx="0" cy="-4.4" r="6.2"/><path d="M-6 -6.5 H6 V-3 H-6 Z" fill="#d02b38" stroke="none"/><rect x="-4.2" y="-5.8" width="2.8" height="2" fill="#fff" stroke="none"/><rect x="1.4" y="-5.8" width="2.8" height="2" fill="#fff" stroke="none"/><path d="M-9.2 12 C-9.2 5 -5 2.3 0 2.3 C5 2.3 9.2 5 9.2 12 Z"/><path d="M-7.6 6.2 H7.6 M-8.8 8.6 H8.8 M-9.2 11 H9.2" /></g>
<circle cx="1186.75" cy="444.75" r="18.4" fill="#fff" stroke="#a369a6" stroke-width="1.5"/>
<g transform="translate(1186.75 444.75)" fill="none" stroke="#a369a6" stroke-width="1.2"><path d="M-7.45 -5.45 A6.25 6.25 0 0 1 5.05 -5.45"/><path d="M-4.4 -5.45 A3.2 3.2 0 0 1 2.0 -5.45"/><path d="M1.65 8.75 H-8.55 V-5.45 H5.35"/><path d="M5.35 -3.45 L13.05 9.95 H1.15 Z" fill="#fff"/><path d="M7.4 2.6 V7.0 M7.4 8.1 V9.0"/></g>
<g fill="#fff" stroke="#d02b38" stroke-width="1.7" stroke-linejoin="miter"><path d="M1074.1 408.8 L1085 430.2 H1063.6 Z"/><path d="M1074.1 416.6 V423.4 M1074.1 425.4 V427.4" stroke-width="2.5"/></g>
<g font-family="Liberation Sans, sans-serif">
<text x="483.9" y="111.9" font-size="28" font-weight="700" fill="#1a1a1a" text-anchor="start" textLength="142.9" lengthAdjust="spacingAndGlyphs" stroke="#fff" stroke-width="0.35">Global data</text>
<text x="211.2" y="283.3" font-size="28" font-weight="700" fill="#1a1a1a" text-anchor="start" textLength="169.5" lengthAdjust="spacingAndGlyphs" stroke="#fff" stroke-width="0.35">Your network</text>
<text x="716.8" y="276.4" font-size="28" font-weight="700" fill="#1a1a1a" text-anchor="start" textLength="304.2" lengthAdjust="spacingAndGlyphs" stroke="#fff" stroke-width="0.35">Analyze and investigate</text>
<text x="320.9" y="718.3" font-size="28" font-weight="700" fill="#1a1a1a" text-anchor="start" textLength="122" lengthAdjust="spacingAndGlyphs" stroke="#fff" stroke-width="0.35">Your data</text>
<text x="709.8" y="315.8" font-size="22" font-weight="400" fill="#1f1f1f" text-anchor="start" textLength="172.8" lengthAdjust="spacingAndGlyphs">Detection engine</text>
<text x="916.7" y="315.8" font-size="22" font-weight="400" fill="#1f1f1f" text-anchor="start" textLength="96.6" lengthAdjust="spacingAndGlyphs">Expertise</text>
<text x="1163.2" y="315.8" font-size="22" font-weight="400" fill="#1f1f1f" text-anchor="start" textLength="86.6" lengthAdjust="spacingAndGlyphs">Mitigate</text>
<text x="502.3" y="240.7" font-size="16.5" font-weight="400" fill="#353535" text-anchor="middle" textLength="48.8" lengthAdjust="spacingAndGlyphs" stroke="#fff" stroke-width="0.3">Global</text>
<text x="502.3" y="261.1" font-size="16.5" font-weight="400" fill="#353535" text-anchor="middle" textLength="76.3" lengthAdjust="spacingAndGlyphs" stroke="#fff" stroke-width="0.3">enterprise</text>
<text x="502.3" y="281.5" font-size="16.5" font-weight="400" fill="#353535" text-anchor="middle" textLength="71.6" lengthAdjust="spacingAndGlyphs" stroke="#fff" stroke-width="0.3">modeling</text>
<text x="609.0" y="241.1" font-size="16.5" font-weight="400" fill="#353535" text-anchor="middle" textLength="83.2" lengthAdjust="spacingAndGlyphs" stroke="#fff" stroke-width="0.3">Proprietary</text>
<text x="609.0" y="261.5" font-size="16.5" font-weight="400" fill="#353535" text-anchor="middle" textLength="45.0" lengthAdjust="spacingAndGlyphs" stroke="#fff" stroke-width="0.3">threat</text>
<text x="609.0" y="281.9" font-size="16.5" font-weight="400" fill="#353535" text-anchor="middle" textLength="85.9" lengthAdjust="spacingAndGlyphs" stroke="#fff" stroke-width="0.3">intelligence</text>
<text x="555.6" y="362.9" font-size="16.5" font-weight="400" fill="#353535" text-anchor="middle" textLength="82.6" lengthAdjust="spacingAndGlyphs" stroke="#fff" stroke-width="0.3">Third-party</text>
<text x="555.6" y="383.3" font-size="16.5" font-weight="400" fill="#353535" text-anchor="middle" textLength="44.2" lengthAdjust="spacingAndGlyphs" stroke="#fff" stroke-width="0.3">feeds</text>
<text x="257.2" y="610.1" font-size="16.5" font-weight="400" fill="#353535" text-anchor="middle" textLength="105.8" lengthAdjust="spacingAndGlyphs" stroke="#fff" stroke-width="0.3">Segmentation</text>
<text x="257.2" y="630.5" font-size="16.5" font-weight="400" fill="#353535" text-anchor="middle" textLength="35.6" lengthAdjust="spacingAndGlyphs" stroke="#fff" stroke-width="0.3">data</text>
<text x="374.5" y="610.0" font-size="16.5" font-weight="400" fill="#353535" text-anchor="middle" textLength="82.6" lengthAdjust="spacingAndGlyphs" stroke="#fff" stroke-width="0.3">Third-party</text>
<text x="374.5" y="630.4" font-size="16.5" font-weight="400" fill="#353535" text-anchor="middle" textLength="81.7" lengthAdjust="spacingAndGlyphs" stroke="#fff" stroke-width="0.3">Integration</text>
<text x="485.0" y="610.0" font-size="16.5" font-weight="400" fill="#353535" text-anchor="middle" textLength="51.5" lengthAdjust="spacingAndGlyphs" stroke="#fff" stroke-width="0.3">Insight</text>
<text x="485.0" y="630.4" font-size="16.5" font-weight="400" fill="#353535" text-anchor="middle" textLength="72.2" lengthAdjust="spacingAndGlyphs" stroke="#fff" stroke-width="0.3">(osquery)</text>
<text x="1208.9" y="408" font-size="16.5" font-weight="400" fill="#363636" text-anchor="start" textLength="55.6" lengthAdjust="spacingAndGlyphs" stroke="#fff" stroke-width="0.3">Threats</text>
<text x="1208.9" y="451" font-size="16.5" font-weight="400" fill="#363636" text-anchor="start" textLength="39.4" lengthAdjust="spacingAndGlyphs" stroke="#fff" stroke-width="0.3">Risks</text>
<text x="1056.3" y="446.3" font-size="13" font-weight="700" fill="#d02b38" text-anchor="start" textLength="36.8" lengthAdjust="spacingAndGlyphs">Alerts</text>
<text x="22.5" y="783.8" font-size="21" fill="#9d9d9d" stroke="#9d9d9d" stroke-width="0.45" textLength="253.8" lengthAdjust="spacingAndGlyphs">What is threat detection?</text>
</g>
<g fill="#a3a3a3"><path d="M1302.5 733.6 A28.6 28.6 0 1 0 1302.5 790.8 A29.6 29.6 0 0 1 1302.5 733.6 Z"/><path d="M1285.4 768.4 A22.95 22.95 0 0 1 1326.1 747.7 A24.43 24.43 0 0 0 1285.4 768.4 Z"/><path d="M1296.6 751.9 A19.61 19.61 0 0 1 1326.1 756.6 A31.63 31.63 0 0 0 1296.6 751.9 Z"/></g>
<text x="1300.1" y="784.3" font-family="Liberation Sans, sans-serif" font-style="italic" font-weight="700" font-size="32.5" fill="#a3a3a3" textLength="115.7" lengthAdjust="spacingAndGlyphs">Akamai</text>
</svg>
</body></html>
